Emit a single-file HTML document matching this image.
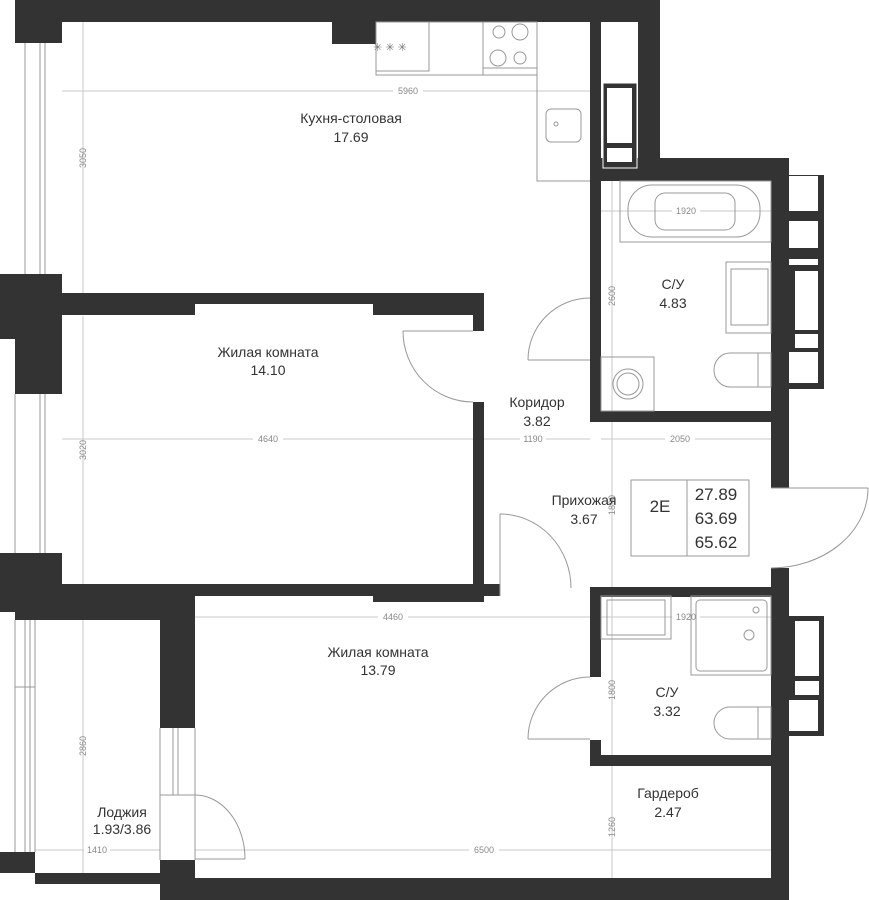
<!DOCTYPE html>
<html><head><meta charset="utf-8"><style>
html,body{margin:0;padding:0;background:#fff;width:869px;height:900px;overflow:hidden}
svg{display:block}
.w{fill:#333}
.l{stroke:#999;stroke-width:1;fill:none}
.d{stroke:#c8c8c8;stroke-width:1;fill:none}
.t{font-family:"Liberation Sans",sans-serif;font-size:14px;fill:#333;text-anchor:middle}
.n{font-family:"Liberation Sans",sans-serif;font-size:9px;fill:#888;text-anchor:middle}
</style></head><body>
<svg width="869" height="900" viewBox="0 0 869 900" xmlns="http://www.w3.org/2000/svg">
<!-- dimension lines -->
<g class="d">
<line x1="62" y1="91" x2="590" y2="91"/><line x1="83" y1="22" x2="83" y2="293"/>
<line x1="62" y1="439" x2="473" y2="439"/><line x1="83" y1="316" x2="83" y2="584"/>
<line x1="484" y1="439" x2="590" y2="439"/><line x1="601" y1="439" x2="771" y2="439"/>
<line x1="612" y1="181" x2="612" y2="411"/><line x1="601" y1="211" x2="771" y2="211"/>
<line x1="195" y1="617" x2="771" y2="617"/><line x1="83" y1="620" x2="83" y2="873"/>
<line x1="35" y1="850" x2="160" y2="850"/><line x1="195" y1="850" x2="771" y2="850"/>
<line x1="612" y1="422" x2="612" y2="587"/><line x1="612" y1="596" x2="612" y2="755"/>
<line x1="612" y1="766" x2="612" y2="878"/>
</g>
<g class="n">
<rect x="393" y="85" width="30" height="11" fill="#fff"/><text x="408" y="94">5960</text>
<rect x="253" y="433" width="30" height="11" fill="#fff"/><text x="268" y="442">4640</text>
<rect x="520" y="433" width="26" height="11" fill="#fff"/><text x="533" y="442">1190</text>
<rect x="665" y="433" width="30" height="11" fill="#fff"/><text x="680" y="442">2050</text>
<rect x="672" y="205" width="28" height="11" fill="#fff"/><text x="686" y="214">1920</text>
<rect x="672" y="611" width="28" height="11" fill="#fff"/><text x="686" y="620">1920</text>
<rect x="378" y="611" width="30" height="11" fill="#fff"/><text x="393" y="620">4460</text>
<rect x="84" y="844" width="26" height="11" fill="#fff"/><text x="97" y="853">1410</text>
<rect x="469" y="844" width="30" height="11" fill="#fff"/><text x="484" y="853">6500</text>
<text transform="translate(86,158) rotate(-90)">3050</text>
<text transform="translate(86,450) rotate(-90)">3020</text>
<text transform="translate(86,746) rotate(-90)">2860</text>
<text transform="translate(615,296) rotate(-90)">2600</text>
<text transform="translate(615,505) rotate(-90)">1890</text>
<text transform="translate(615,690) rotate(-90)">1800</text>
<text transform="translate(615,827) rotate(-90)">1260</text>
</g>
<!-- walls -->
<g class="w">
<rect x="15" y="0" width="645" height="22"/>
<rect x="15" y="0" width="47" height="43"/>
<rect x="332" y="22" width="44" height="22"/>
<rect x="590" y="0" width="11" height="422"/>
<rect x="638" y="0" width="22" height="181"/>
<rect x="590" y="158" width="199" height="23"/>
<rect x="601" y="168" width="37" height="13"/>
<rect x="771" y="158" width="18" height="330"/>
<rect x="771" y="568" width="18" height="332"/>
<rect x="160" y="878" width="629" height="22"/>
<rect x="590" y="411" width="181" height="11"/>
<rect x="590" y="587" width="181" height="10"/>
<rect x="590" y="596" width="11" height="81"/>
<rect x="590" y="740" width="11" height="26"/>
<rect x="590" y="755" width="181" height="11"/>
<rect x="0" y="274" width="62" height="65"/>
<rect x="15" y="339" width="47" height="55"/>
<rect x="62" y="293" width="422" height="11"/>
<rect x="62" y="293" width="133" height="22"/>
<rect x="373" y="293" width="111" height="22"/>
<rect x="473" y="293" width="11" height="38"/>
<rect x="473" y="402" width="11" height="194"/>
<rect x="62" y="584" width="438" height="12"/>
<rect x="373" y="584" width="111" height="18"/>
<rect x="0" y="553" width="62" height="59"/>
<rect x="15" y="584" width="180" height="36"/>
<rect x="160" y="584" width="35" height="144"/>
<rect x="0" y="852" width="35" height="21"/>
<rect x="35" y="873" width="125" height="11"/>
<rect x="160" y="860" width="35" height="40"/>
<!-- shaft -->
<rect x="603" y="83" width="34" height="85" stroke="#fff" stroke-width="1"/>
<rect x="789" y="175" width="35" height="214"/>
<rect x="789" y="616" width="35" height="120"/>
</g>
<g fill="#fff">
<rect x="607" y="88" width="25" height="55"/><rect x="607" y="148" width="25" height="14"/>
<rect x="789" y="176" width="29" height="35"/><rect x="789" y="221" width="29" height="27"/>
<rect x="789" y="259" width="29" height="6"/><rect x="795" y="271" width="23" height="59"/>
<rect x="795" y="334" width="23" height="14"/><rect x="789" y="352" width="29" height="31"/>
<rect x="795" y="621" width="24" height="55"/><rect x="795" y="681" width="24" height="14"/>
<rect x="789" y="700" width="29" height="31"/>
</g>
<!-- windows -->
<g class="l">
<line x1="25" y1="43" x2="25" y2="274"/><line x1="40" y1="43" x2="40" y2="274"/><line x1="45" y1="43" x2="45" y2="274"/>
<line x1="15" y1="394" x2="15" y2="553"/><line x1="40" y1="394" x2="40" y2="553"/><line x1="45" y1="394" x2="45" y2="553"/>
<line x1="15" y1="620" x2="15" y2="852"/><line x1="25" y1="620" x2="25" y2="852"/><line x1="30" y1="620" x2="30" y2="852"/><line x1="35" y1="620" x2="35" y2="852"/>
<line x1="15" y1="687" x2="35" y2="687"/>
<line x1="173" y1="728" x2="173" y2="795"/><line x1="178" y1="728" x2="178" y2="795"/>
<line x1="160" y1="728" x2="160" y2="860"/><line x1="195" y1="728" x2="195" y2="860"/>
<line x1="160" y1="795" x2="195" y2="795"/>
<!-- doors -->
<line x1="403" y1="331" x2="473" y2="331"/><path d="M403 331 A70 71 0 0 0 473 402"/>
<line x1="528" y1="360" x2="590" y2="360"/><path d="M528 360 A62 62 0 0 1 590 298"/>
<line x1="528" y1="739" x2="590" y2="739"/><path d="M528 739 A62 62 0 0 1 590 677"/>
<line x1="500" y1="514" x2="500" y2="596"/><path d="M500 514 A71 74 0 0 1 571 588"/>
<line x1="771" y1="488" x2="868" y2="488"/><path d="M868 488 A97 80 0 0 1 771 568"/>
<line x1="195" y1="859" x2="245" y2="859"/><path d="M195 795 A50 64 0 0 1 245 859"/>
<!-- kitchen -->
<rect x="376" y="22" width="107" height="53"/><rect x="376" y="22" width="53" height="49"/>
<rect x="483" y="22" width="54" height="53"/><line x1="483" y1="68" x2="537" y2="68"/>
<circle cx="499" cy="32" r="6"/><circle cx="520" cy="32" r="8"/><circle cx="498" cy="58" r="8"/><circle cx="520" cy="58" r="6"/>
<polyline points="537,22 537,181 590,181"/>
<rect x="546" y="109" width="35" height="33" rx="5"/><circle cx="556" cy="124" r="2"/>
<!-- bath1 -->
<rect x="620" y="181" width="151" height="61"/>
<rect x="628" y="185" width="132" height="52" rx="24"/>
<rect x="655" y="193" width="80" height="37" rx="10"/>
<rect x="726" y="262" width="45" height="71"/><rect x="731" y="269" width="37" height="56"/>
<path d="M758 353 L730 353 A16 17 0 0 0 730 387 L758 387 Z"/><rect x="758" y="353" width="13" height="34"/>
<rect x="601" y="357" width="53" height="54"/><circle cx="628" cy="384" r="15"/><circle cx="628" cy="384" r="11"/>
<!-- bath2 -->
<rect x="601" y="596" width="70" height="43"/><rect x="607" y="600" width="58" height="35"/>
<rect x="691" y="596" width="80" height="79"/><rect x="696" y="600" width="71" height="71" rx="4"/>
<circle cx="749" cy="635" r="5"/><circle cx="756" cy="610" r="3"/>
<path d="M758 707 L730 707 A16 16 0 0 0 730 739 L758 739 Z"/><rect x="758" y="707" width="13" height="32"/>
<!-- info box -->
<rect x="631" y="480" width="118" height="76"/><line x1="687" y1="480" x2="687" y2="556"/>
</g>
<g class="n" style="font-size:11px;fill:#777">
<text x="390" y="51">✳ ✳ ✳</text>
</g>
<g class="t">
<text x="351" y="123">Кухня-столовая</text><text x="351" y="142">17.69</text>
<text x="268" y="357">Жилая комната</text><text x="268" y="375">14.10</text>
<text x="537" y="407">Коридор</text><text x="537" y="426">3.82</text>
<text x="673" y="289">С/У</text><text x="673" y="308">4.83</text>
<text x="584" y="505">Прихожая</text><text x="584" y="524">3.67</text>
<text x="378" y="657">Жилая комната</text><text x="378" y="675">13.79</text>
<text x="667" y="697">С/У</text><text x="667" y="716">3.32</text>
<text x="668" y="798">Гардероб</text><text x="668" y="817">2.47</text>
<text x="122" y="817">Лоджия</text><text x="122" y="834">1.93/3.86</text>
<text x="660" y="512" style="font-size:17px">2E</text>
<text x="716" y="500" style="font-size:17px">27.89</text>
<text x="716" y="524" style="font-size:17px">63.69</text>
<text x="716" y="548" style="font-size:17px">65.62</text>
</g>
</svg>
</body></html>
